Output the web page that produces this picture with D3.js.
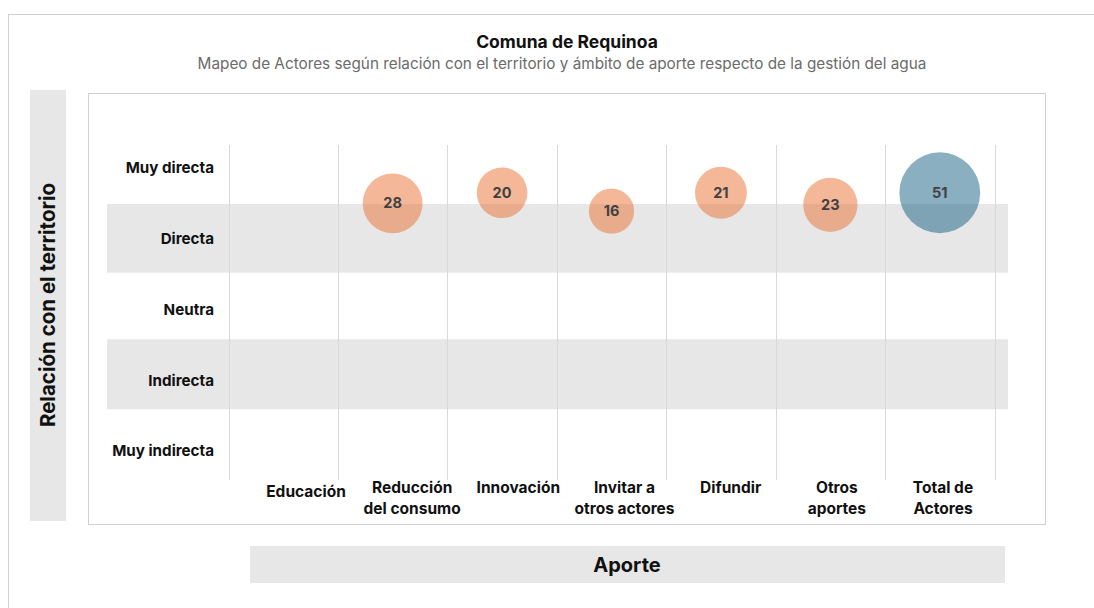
<!doctype html>
<html>
  <head>
    <meta charset="utf-8">
    <script src="https://cdn.jsdelivr.net/npm/d3@7/dist/d3.min.js"></script>
    <style>
    body { margin: 0; background: #fff; }
    svg { font-family: Inter, "Noto Sans", sans-serif; }
    .frame { fill: none; stroke: #d0d0d0; }
    .band { fill: #e7e7e7; }
    .grid { stroke: #d9d9d9; stroke-width: 1; }
    .rowlab { font-weight: 700; font-size: 15.2px; fill: #111; }
    .collab { font-weight: 700; font-size: 15.5px; fill: #111; }
    .val { font-weight: 700; font-size: 14.5px; fill: #404040; }
    </style>
  </head>
  <body>
    <svg width="1094" height="608"></svg>
    <script>
      // relación con el territorio: 1 = muy indirecta ... 5 = muy directa
      var rowLabels = ["Muy indirecta", "Indirecta", "Neutra", "Directa", "Muy directa"];
      var rowValues = [1, 2, 3, 4, 5];
      // shaded rows (value ranges)
      var shadedRows = [[3.52, 4.49], [1.59, 2.58]];

      var categories = ["Educación", "Reducción del consumo", "Innovación",
        "Invitar a otros actores", "Difundir", "Otros aportes", "Total de Actores"];
      var categoryLines = [["Educación"], ["Reducción", "del consumo"], ["Innovación"],
        ["Invitar a", "otros actores"], ["Difundir"], ["Otros", "aportes"], ["Total de", "Actores"]];

      var bubbleCategory = ["Reducción del consumo", "Innovación", "Invitar a otros actores",
        "Difundir", "Otros aportes", "Total de Actores"];
      var bubbleCount = [28, 20, 16, 21, 23, 51];
      var bubbleRelation = [4.50, 4.65, 4.39, 4.65, 4.48, 4.65];
      var bubbleGroup = ["aporte", "aporte", "aporte", "aporte", "aporte", "total"];

      var svg = d3.select("svg");

      var x = d3.scaleBand().domain(categories).range([228.5, 994.5]).padding(0);
      var xLab = d3.scalePoint().domain(categories).range([306, 943]);
      var y = d3.scaleLinear().domain([1, 5]).range([451, 168]);
      var r = d3.scaleSqrt().domain([0, 51]).range([0, 40.4]);
      var color = d3.scaleOrdinal().domain(["aporte", "total"]).range(["#E97132", "#156082"]);

      // outer frame
      svg.append("rect").attr("class", "frame")
        .attr("x", 8.5).attr("y", 14.5).attr("width", 1200).attr("height", 700);

      // titles
      svg.append("text").attr("x", 567).attr("y", 48)
        .attr("text-anchor", "middle").style("font-weight", 700).style("font-size", "17.5px")
        .style("fill", "#111").text("Comuna de Requinoa");
      svg.append("text").attr("x", 562).attr("y", 69)
        .attr("text-anchor", "middle").style("font-size", "15.3px")
        .style("fill", "#6b6b6b")
        .text("Mapeo de Actores según relación con el territorio y ámbito de aporte respecto de la gestión del agua");

      // y axis title strip
      svg.append("rect").attr("x", 30).attr("y", 90).attr("width", 36).attr("height", 431)
        .attr("fill", "#e7e7e7");
      svg.append("text").attr("transform", "translate(55,305) rotate(-90)")
        .attr("text-anchor", "middle").style("font-weight", 700).style("font-size", "20.5px")
        .style("fill", "#111").text("Relación con el territorio");

      // plot box
      svg.append("rect").attr("class", "frame")
        .attr("x", 88.5).attr("y", 93.5).attr("width", 957).attr("height", 431);

      svg.selectAll("rect.band")
        .data(shadedRows)
        .enter()
        .append("rect")
          .attr("class", "band")
          .attr("x", 107).attr("width", 901)
          .attr("y", d => y(d[1]))
          .attr("height", d => y(d[0]) - y(d[1]));

      var gridX = categories.map(c => x(c)).concat([x.range()[1]]);
      svg.selectAll("line.grid")
        .data(gridX)
        .enter()
        .append("line")
          .attr("class", "grid")
          .attr("x1", d => Math.round(d) + 0.5).attr("x2", d => Math.round(d) + 0.5)
          .attr("y1", y(5.325)).attr("y2", y(0.59));

      // row labels
      svg.selectAll("text.rowlab")
        .data(rowValues)
        .enter()
        .append("text")
          .attr("class", "rowlab")
          .attr("x", 214)
          .attr("y", d => y(d))
          .attr("dy", "0.35em")
          .attr("text-anchor", "end")
          .text((d, i) => rowLabels[i]);

      // column labels
      var colG = svg.selectAll("g.col")
        .data(categories)
        .enter()
        .append("g")
          .attr("class", "col")
          .attr("transform", d => `translate(${xLab(d)},${d === "Educación" ? 492 : 488})`);
      colG.each(function(d, i) {
        d3.select(this).selectAll("text")
          .data(categoryLines[i])
          .enter()
          .append("text")
            .attr("class", "collab")
            .attr("text-anchor", "middle")
            .attr("y", (t, j) => j * 20.5)
            .attr("dy", "0.35em")
            .text(t => t);
      });

      // bubbles
      var bubbles = bubbleCategory.map((c, i) => ({
        cat: c, n: bubbleCount[i], rel: bubbleRelation[i], group: bubbleGroup[i]
      }));
      var bG = svg.selectAll("g.bubble")
        .data(bubbles)
        .enter()
        .append("g")
          .attr("class", "bubble")
          .attr("transform", d => `translate(${x(d.cat) + x.bandwidth() / 2},${y(d.rel)})`);
      bG.append("circle")
        .attr("r", d => r(d.n))
        .style("fill", d => color(d.group))
        .style("fill-opacity", 0.5);
      bG.append("text")
        .attr("class", "val")
        .attr("text-anchor", "middle")
        .attr("dy", "0.35em")
        .text(d => d.n);

      // x axis title strip
      svg.append("rect").attr("x", 250).attr("y", 546).attr("width", 755).attr("height", 37)
        .attr("fill", "#e7e7e7");
      svg.append("text").attr("x", 627).attr("y", 565).attr("dy", "0.35em")
        .attr("text-anchor", "middle").style("font-weight", 700).style("font-size", "20px")
        .style("fill", "#111").text("Aporte");
    </script>
  </body>
</html>
